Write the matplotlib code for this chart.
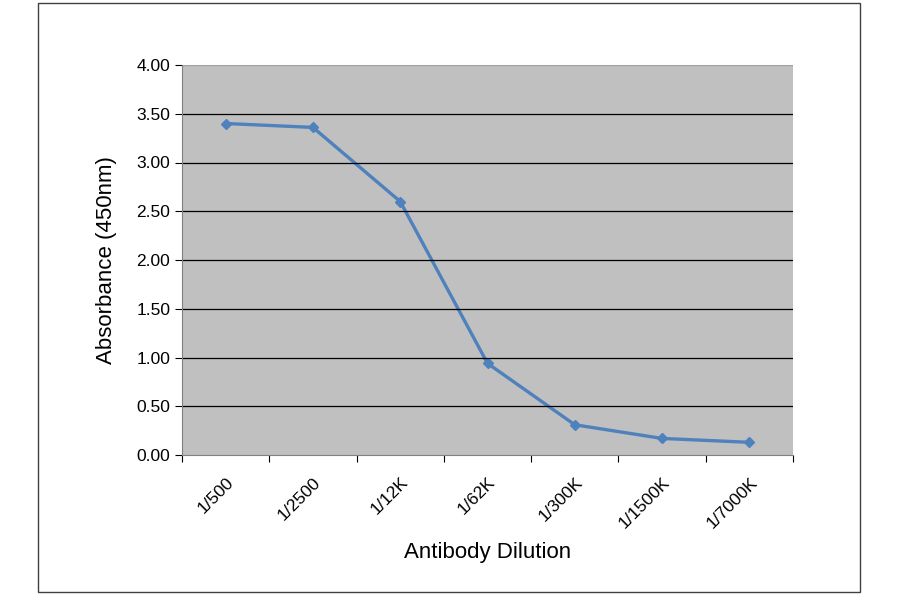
import matplotlib
matplotlib.use("Agg")
import matplotlib.pyplot as plt
from matplotlib.patches import Rectangle

categories = ["1/500", "1/2500", "1/12K", "1/62K", "1/300K", "1/1500K", "1/7000K"]
values = [3.40, 3.36, 2.60, 0.94, 0.31, 0.17, 0.13]

fig = plt.figure(figsize=(9, 5.94), dpi=100)
fig.patches.append(Rectangle((38/900, 1-592/594), (860-38)/900, (592-3)/594,
                             transform=fig.transFigure, fill=False, ec="#404040", lw=1))
ax = fig.add_axes([182/900, 1-455/594, (793-182)/900, (455-65)/594])
ax.set_facecolor("#c0c0c0")
x = list(range(len(categories)))
ax.plot(x, values, color="#4f81bd", lw=2.4, marker="D", ms=5.5)
ax.set_xlim(-0.5, len(categories)-0.5)
ax.set_ylim(0, 4)
yt = [i*0.5 for i in range(9)]
ax.set_yticks(yt)
ax.set_yticklabels([f"{v:.2f}" for v in yt], fontsize=12.5, family="Liberation Sans")
for v in yt[1:8]:
    ax.axhline(v, color="black", lw=0.9)
ax.axhline(4.0, color="#a0a0a0", lw=0.9)
ax.set_xticks([i-0.5 for i in range(len(categories)+1)])
ax.set_xticklabels([])
ax.set_xticks(x, minor=True)
ax.set_xticklabels(categories, minor=True, rotation=45, ha="right", va="top",
                   fontsize=12.5, family="Liberation Sans", rotation_mode="anchor")
ax.tick_params(axis="x", which="minor", length=0, pad=14)
ax.tick_params(axis="x", which="major", length=5, direction="out")
ax.tick_params(axis="y", length=5)
for s in ["top", "right"]:
    ax.spines[s].set_visible(False)
ax.spines["left"].set_color("#808080")
ax.spines["bottom"].set_color("#808080")
ax.set_ylabel("Absorbance (450nm)", fontsize=16, family="Liberation Sans", labelpad=14)
ax.set_xlabel("Antibody Dilution", fontsize=16, family="Liberation Sans", labelpad=8)
fig.savefig("out.png", dpi=100)
